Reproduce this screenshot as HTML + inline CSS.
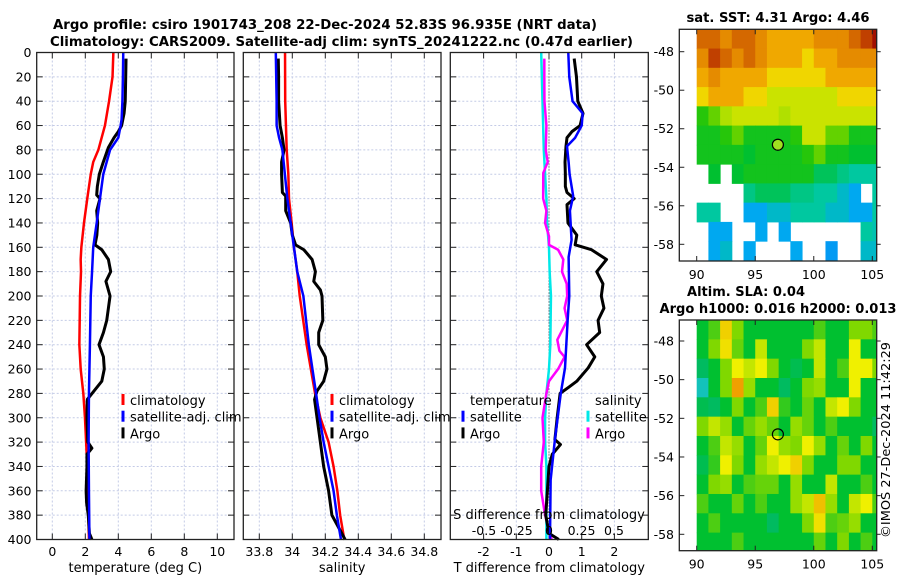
<!DOCTYPE html>
<html><head><meta charset="utf-8"><style>
body{margin:0;background:#fff;}
svg{display:block;font-family:"DejaVu Sans","Liberation Sans",sans-serif;}
</style></head><body>
<svg id="fig" width="900" height="580" viewBox="0 0 900 580" xmlns="http://www.w3.org/2000/svg">
<text x="325" y="29" text-anchor="middle" font-weight="bold" font-size="13" textLength="544" lengthAdjust="spacingAndGlyphs">Argo profile: csiro 1901743_208 22-Dec-2024 52.83S 96.935E (NRT data)</text>
<text x="341.5" y="46" text-anchor="middle" font-weight="bold" font-size="13" textLength="583" lengthAdjust="spacingAndGlyphs">Climatology: CARS2009. Satellite-adj clim: synTS_20241222.nc (0.47d earlier)</text>
<text x="778" y="22" text-anchor="middle" font-weight="bold" font-size="13" textLength="183" lengthAdjust="spacingAndGlyphs">sat. SST: 4.31 Argo: 4.46</text>
<text x="746" y="296" text-anchor="middle" font-weight="bold" font-size="13" textLength="118" lengthAdjust="spacingAndGlyphs">Altim. SLA: 0.04</text>
<text x="778" y="313" text-anchor="middle" font-weight="bold" font-size="13" textLength="237" lengthAdjust="spacingAndGlyphs">Argo h1000: 0.016 h2000: 0.013</text>
<text transform="translate(890,440) rotate(-90)" text-anchor="middle" font-size="12.5" textLength="196" lengthAdjust="spacingAndGlyphs">©IMOS 27-Dec-2024 11:42:29</text>
<g id="layer"></g>
</svg>
<script>
// ---------- data ----------
const depthTicks=[0,20,40,60,80,100,120,140,160,180,200,220,240,260,280,300,320,340,360,380,400];
const tempTicks=[0,2,4,6,8,10];
const salTicks=[33.8,34,34.2,34.4,34.6,34.8];
const salTickLabels=["33.8","34","34.2","34.4","34.6","34.8"];
const tdiffTicks=[-2,-1,0,1,2];
const sdiffTicks=[-0.5,-0.25,0,0.25,0.5];
const sdiffTickLabels=["-0.5","-0.25","0","0.25","0.5"];

const climDepth=[0,20,40,60,80,90,100,120,140,160,170,180,200,220,240,260,280,300,320,340,360,380,400];
const climTemp=[3.70,3.65,3.44,3.19,2.79,2.48,2.33,2.12,1.92,1.76,1.72,1.74,1.68,1.66,1.64,1.72,1.88,1.98,2.05,2.12,2.16,2.19,2.22];
const satDepth=[0,20,40,55,60,70,80,100,120,140,160,180,200,240,280,320,360,400];
const satTemp=[4.30,4.28,4.25,4.2,4.14,4.0,3.5,3.09,2.89,2.69,2.48,2.41,2.33,2.28,2.22,2.2,2.22,2.25];
const argoDepth=[5,20,40,50,60,65,70,78,90,100,110,117,120,130,140,150,158,162,170,180,188,200,210,220,230,240,250,260,270,278,285,300,320,325,330,340,360,370,380,395,400];
const argoTemp=[4.47,4.45,4.42,4.35,4.2,4.0,3.74,3.4,3.09,2.85,2.73,2.69,2.89,2.69,2.75,2.7,2.59,3.0,3.4,3.54,3.25,3.5,3.4,3.3,3.1,2.83,3.1,3.15,3.0,2.53,2.12,2.1,2.15,2.4,2.1,2.1,2.05,2.08,2.18,2.25,2.4];

const climSalDepth=[0,40,80,100,120,140,160,180,200,240,280,300,320,340,360,380,400];
const climSal=[33.956,33.957,33.966,33.976,33.98,33.996,34.01,34.03,34.045,34.087,34.138,34.17,34.22,34.25,34.273,34.29,34.315];
const satSalDepth=[0,40,60,70,80,100,120,140,160,180,200,240,280,300,320,340,360,380,400];
const satSal=[33.9,33.905,33.905,33.92,33.94,33.955,33.97,33.99,34.01,34.03,34.067,34.1,34.144,34.165,34.19,34.22,34.25,34.27,34.295];
const argoSalDepth=[5,20,40,60,70,80,90,100,115,118,130,140,150,158,162,170,180,188,195,200,220,230,240,250,260,270,278,285,300,320,340,360,380,400];
const argoSal=[33.915,33.917,33.917,33.926,33.94,33.95,33.935,33.935,33.94,33.96,33.96,33.99,34.0,34.02,34.07,34.12,34.14,34.13,34.17,34.18,34.185,34.16,34.16,34.2,34.21,34.19,34.15,34.135,34.15,34.17,34.19,34.22,34.24,34.32];

const satTdDepth=[0,20,40,50,60,70,77,90,100,118,130,154,168,200,220,259,280,318,351,400];
const satTdiff=[0.59,0.62,0.72,1.03,1.0,0.8,0.55,0.6,0.63,0.74,0.64,0.69,0.6,0.62,0.57,0.49,0.36,0.18,0.05,0.03];
const argoTdDepth=[5,20,40,50,60,65,70,77,90,100,110,115,120,125,140,150,158,162,170,180,190,200,210,220,230,240,250,259,270,275,280,300,318,322,330,340,360,380,395,400];
const argoTdiff=[0.77,0.84,0.88,1.04,0.95,0.7,0.55,0.52,0.49,0.5,0.5,0.55,0.77,0.55,0.58,0.85,0.8,1.3,1.76,1.46,1.65,1.6,1.68,1.5,1.55,1.15,1.4,1.2,0.85,0.6,0.34,0.25,0.18,0.35,0.1,0.0,-0.05,-0.1,0.0,0.3];
const argoSdDepth=[5,20,40,60,80,90,99,120,130,140,151,158,162,170,180,190,200,210,220,236,245,250,260,270,280,300,320,340,360,380,400];
const argoSdiff=[-0.036,-0.036,-0.035,-0.02,-0.025,-0.01,-0.044,-0.045,-0.02,-0.03,0.0,0.0,0.07,0.11,0.1,0.136,0.14,0.12,0.14,0.064,0.08,0.12,0.07,0.0,-0.02,-0.05,-0.04,-0.06,-0.06,-0.03,0.02];
const satSdDepth=[0,40,60,80,100,120,140,160,180,200,240,260,280,300,320,340,360,380,400];
const satSdiff=[-0.06,-0.05,-0.045,-0.04,-0.03,-0.02,-0.015,0,0.005,0.015,0.01,0.0,-0.02,-0.03,-0.03,-0.02,-0.02,-0.02,-0.02];

const mapLonTicks=[90,95,100,105];
const sstLatTicks=[-48,-50,-52,-54,-56,-58];
const slaLatTicks=[-48,-50,-52,-54,-56,-58];
const argoLon=96.935, argoLat=-52.83;
const N=null;
const sstGrid=[
[7,7,6.5,7,7,6.5,6,6,6,6,6.5,6.5,6.5,7,7.5,8],
[6.5,7.5,7,6.5,7,6.5,6,6,6,5.5,6,6,6.5,6.5,6.5,6.5],
[6,6.5,6,6,6,6,5.5,5.5,5.5,5.5,5.5,6,6,6,6,6],
[5.5,6,6,6,5.5,5.5,5,5,5,5,5,5,5.5,5.5,5.5,5.5],
[4.2,4.5,4.8,5,5,5,5,4.8,5,5,5,5,5,5,5,5],
[4,4,4.2,4.5,4,4,4,4,4.2,5,5,4.5,4.5,4,4,4],
[4,4,4,4,3.8,4,4,4,4,4.2,4.5,4,4,3.8,3.8,3.8],
[N,3.8,N,3.8,4,4,4,4,4,4,3.5,3.5,3.2,3,3,3],
[N,N,N,N,3.2,3.5,3.5,3.5,3.2,3.2,3,3,2.5,2,N,3],
[3,3,N,N,2,2,2.5,2.5,3,3,3,2.5,2.5,2,2,3],
[N,2,2,N,N,2,N,2,N,N,N,N,N,N,3,2.8],
[N,2,2.5,N,2,N,N,N,2,N,N,1.8,N,N,2.5,2.5]];
const slaGrid=[
[0,0.03,0.12,0.05,0,0,0,0,0,0,0.03,0,0,0.05,0.05,0.03],
[0,0.05,0.11,0.04,0,0.08,0,0,0,0.05,0.08,0,0,0.1,0,0],
[-0.03,0,0.05,0.1,0.08,0.1,0.05,0,-0.02,0,0.08,0,0.03,0.1,0.1,0.05],
[-0.08,0,0.05,0.15,0.06,0,0,-0.03,0,0.05,0.06,0,0,0.1,0,0],
[-0.02,-0.03,0,0.05,0,0.03,0.12,0.02,0,0.04,0,0.08,0.1,0.05,0,0],
[0.05,0.08,0.06,0,0.04,0.06,0.04,0,0.06,0.04,0,0.03,0,0,0,-0.03],
[0,0.03,0.08,0.06,0,0.04,0.1,0.06,0.05,0.1,0.06,0,0.04,0,0.05,0],
[-0.02,0.02,0.1,0.05,0,0.06,0.08,0.1,0.12,0.05,0,0,0.05,0.05,0,0],
[0,0.05,0.06,0,0.03,0.04,0.04,0,0.06,0,0,0.08,0,0,0.03,0],
[0.03,0,0,0.04,0,0.03,0,0,0.06,0.08,0.13,0.06,0,0.08,0.1,0.03],
[0,0.03,0,0,0,0,-0.03,0,0,0.05,0.11,0.03,0.04,0.06,0,0],
[0,0,0,0.03,0,0,0,0,0,0,0.04,0,0.05,0,0.03,0]];

// ---------- helpers ----------
const NS="http://www.w3.org/2000/svg";
const layer=document.getElementById('layer');
function mk(tag,attrs,parent){const e=document.createElementNS(NS,tag);for(const k in attrs)e.setAttribute(k,attrs[k]);(parent||layer).appendChild(e);return e;}
function txt(s,x,y,anchor,size,parent){const t=mk('text',{x:x,y:y,'text-anchor':anchor,'font-size':size},parent);t.textContent=s;return t;}
const yTop=52.5,yBot=539.5;
function yD(d){return yTop+(d/400)*(yBot-yTop);}
function linScale(d0,d1,p0,p1){return v=>p0+(v-d0)/(d1-d0)*(p1-p0);}

const panels=[
 {name:'temperature-panel',x0:36.7,x1:234,sx:linScale(0,10,52.3,217.3),ticks:tempTicks,labels:tempTicks.map(String),title:'temperature (deg C)'},
 {name:'salinity-panel',x0:243.3,x1:441,sx:linScale(34,34.8,292.3,424.3),ticks:salTicks,labels:salTickLabels,title:'salinity'},
 {name:'difference-panel',x0:450.3,x1:648.3,sx:linScale(0,1,549,581.7),ticks:tdiffTicks,labels:tdiffTicks.map(String),title:'T difference from climatology'}
];
const sxS=linScale(0,1,549,679);

function profile(g,xs,ds,sx,color,w,name){
  const p=ds.map((d,i)=>(i?'L':'M')+sx(xs[i]).toFixed(2)+','+yD(d).toFixed(2)).join(' ');
  const e=mk('path',{d:p,fill:'none',stroke:color,'stroke-width':w,'stroke-linejoin':'round'},g);
  
  
}

panels.forEach((P,pi)=>{
  const g=mk('g',{});
  
  
  depthTicks.forEach(d=>{ if(d>0&&d<400) mk('line',{x1:P.x0,x2:P.x1,y1:yD(d),y2:yD(d),stroke:'#c4cbe6','stroke-width':1,'stroke-dasharray':'2,2'},g);});
  P.ticks.forEach(v=>{mk('line',{x1:P.sx(v),x2:P.sx(v),y1:yTop,y2:yBot,stroke:'#c4cbe6','stroke-width':1,'stroke-dasharray':'2,2'},g);});
  depthTicks.forEach(d=>{
    mk('line',{x1:P.x0,x2:P.x0+6,y1:yD(d),y2:yD(d),stroke:'#222','stroke-width':1},g);
    mk('line',{x1:P.x1-6,x2:P.x1,y1:yD(d),y2:yD(d),stroke:'#222','stroke-width':1},g);
  });
  P.ticks.forEach((v,i)=>{
    mk('line',{x1:P.sx(v),x2:P.sx(v),y1:yBot,y2:yBot-6,stroke:'#222','stroke-width':1},g);
    mk('line',{x1:P.sx(v),x2:P.sx(v),y1:yTop,y2:yTop+6,stroke:'#222','stroke-width':1},g);
    const t=txt(P.labels[i],P.sx(v),556,'middle',12.5,g);
    
    
  });
  const at=txt(P.title,(P.x0+P.x1)/2,572,'middle',13,g);
  
  
  if(pi===0){depthTicks.forEach(d=>{const t=txt(String(d),31.5,yD(d)+4.5,'end',12.5,g);
    
    });}
  if(pi===0){
    profile(g,climTemp,climDepth,P.sx,'#ff0000',2.5,'climatology-temp-line');
    profile(g,argoTemp,argoDepth,P.sx,'#000',3,'argo-temp-line');
    profile(g,satTemp,satDepth,P.sx,'#0000ff',2.5,'satellite-temp-line');
  } else if(pi===1){
    profile(g,climSal,climSalDepth,P.sx,'#ff0000',2.5,'climatology-sal-line');
    profile(g,argoSal,argoSalDepth,P.sx,'#000',3,'argo-sal-line');
    profile(g,satSal,satSalDepth,P.sx,'#0000ff',2.5,'satellite-sal-line');
  } else {
    mk('line',{x1:549,x2:549,y1:yTop,y2:yBot,stroke:'#333','stroke-width':1,'stroke-dasharray':'1,2'},g);
    profile(g,satSdiff,satSdDepth,sxS,'#00e8e8',2.5,'satellite-sdiff-line');
    profile(g,argoSdiff,argoSdDepth,sxS,'#ff00ff',2.5,'argo-sdiff-line');
    profile(g,argoTdiff,argoTdDepth,P.sx,'#000',3,'argo-tdiff-line');
    profile(g,satTdiff,satTdDepth,P.sx,'#0000ff',2.5,'satellite-tdiff-line');
    const st=txt('S difference from climatology',549,519,'middle',13,g);
    
    
    sdiffTicks.forEach((v,i)=>{const t=txt(sdiffTickLabels[i],sxS(v),535,'middle',12.5,g);
      
      });
  }
  mk('rect',{x:P.x0,y:yTop,width:P.x1-P.x0,height:yBot-yTop,fill:'none',stroke:'#222','stroke-width':1.3},g);
});

function legend(x,y,items,title){
  const g=mk('g',{});
  
  
  if(title){txt(title,x+7,y,'start',13,g);y+=16.7;}
  items.forEach((it,i)=>{
    mk('rect',{x:x-1.5,y:y+i*16.7-11,width:3,height:11,fill:it[1]},g);
    const t=txt(it[0],x+7,y+i*16.7,'start',13,g);
    
    
  });
}
legend(123,405,[['climatology','#ff0000'],['satellite-adj. clim','#0000ff'],['Argo','#000']]);
legend(332,405,[['climatology','#ff0000'],['satellite-adj. clim','#0000ff'],['Argo','#000']]);
legend(463,405,[['satellite','#0000ff'],['Argo','#000']],'temperature');
legend(588,405,[['satellite','#00e8e8'],['Argo','#ff00ff']],'salinity');

function hex(c){return [parseInt(c.slice(1,3),16),parseInt(c.slice(3,5),16),parseInt(c.slice(5,7),16)];}
function cmap(stops){return v=>{if(v<=stops[0][0])return stops[0][1];for(let i=1;i<stops.length;i++){if(v<=stops[i][0]){const a=hex(stops[i-1][1]),b=hex(stops[i][1]),t=(v-stops[i-1][0])/(stops[i][0]-stops[i-1][0]);return 'rgb('+a.map((c,k)=>Math.round(c+(b[k]-c)*t)).join(',')+')';}}return stops[stops.length-1][1];};}
const sstC=cmap([[1,'#1060ff'],[2,'#00a8f0'],[3,'#00c8a0'],[3.8,'#00c030'],[4.3,'#30c800'],[4.8,'#b0e000'],[5.3,'#f0e800'],[6,'#f0a800'],[6.7,'#e08000'],[7.5,'#c04000'],[8,'#a01000']]);
const slaC=cmap([[-0.1,'#20c8e0'],[-0.05,'#00b880'],[0,'#00c030'],[0.05,'#80d800'],[0.1,'#f0f000'],[0.15,'#f0a000']]);

function map(name,fy0,fy1,lat48y,lat58y,grid,cf,circleFill){
  const g=mk('g',{});
  
  
  const fx0=679.3,fx1=876.7;
  const sx=linScale(90,105,696.7,872.3), sy=linScale(-48,-58,lat48y,lat58y);
  const pxPerDeg=(lat58y-lat48y)/10;
  const latTop=-48+(lat48y-fy0)/pxPerDeg;
  const cid=name+'-clip';
  const cp=mk('clipPath',{id:cid},g);mk('rect',{x:fx0,y:fy0,width:fx1-fx0,height:fy1-fy0},cp);
  const cg=mk('g',{'clip-path':'url(#'+cid+')'},g);
  grid.forEach((row,r)=>row.forEach((v,c)=>{
    if(v===null)return;
    const lat0=latTop-r;
    const x=sx(90+c),y=sy(lat0);
    const cell=mk('rect',{x:x,y:y,width:sx(91+c)-x+0.5,height:sy(lat0-1)-y+0.5,fill:cf(v)},cg);
    
    
  }));
  mk('rect',{x:fx0,y:fy0,width:fx1-fx0,height:fy1-fy0,fill:'none',stroke:'#222','stroke-width':1.3},g);
  mapLonTicks.forEach(v=>{
    mk('line',{x1:sx(v),x2:sx(v),y1:fy1,y2:fy1-5,stroke:'#222'},g);
    mk('line',{x1:sx(v),x2:sx(v),y1:fy0,y2:fy0+5,stroke:'#222'},g);
    const t=txt(String(v),sx(v),fy1+18,'middle',12.5,g);
    
    
  });
  sstLatTicks.forEach(v=>{
    mk('line',{x1:fx0,x2:fx0+5,y1:sy(v),y2:sy(v),stroke:'#222'},g);
    mk('line',{x1:fx1,x2:fx1+4,y1:sy(v),y2:sy(v),stroke:'#222'},g);
    const t=txt(String(v),674,sy(v)+4.5,'end',12.5,g);
    
    
  });
  const c=mk('circle',{cx:sx(argoLon),cy:sy(argoLat),r:5.5,fill:circleFill,stroke:'#000','stroke-width':1.2},g);
  
  
}
map('sst-map',29.3,261,51.7,244.3,sstGrid,sstC,'#a0e020');
map('sla-map',320,550.7,341,534.3,slaGrid,slaC,'none');
</script>
</body></html>
